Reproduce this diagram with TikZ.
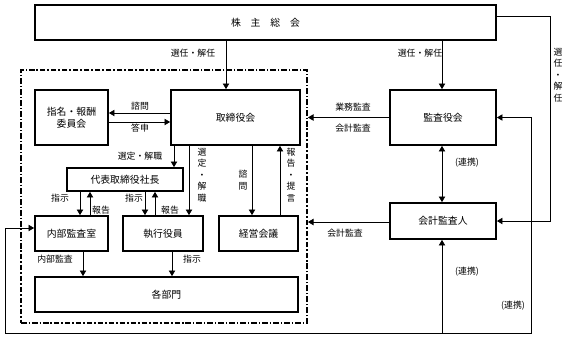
\documentclass[tikz,border=0pt]{standalone}
\usepackage{fontspec}
\setmainfont{Noto Sans CJK JP}
\usetikzlibrary{arrows.meta}

\begin{document}
\begin{tikzpicture}[x=0.025cm, y=-0.025cm,
	box/.style={draw, line width=1.2pt, inner sep=0, align=center,
				font=\fontsize{7}{8.5}\selectfont},
	lbl/.style={inner sep=0, font=\fontsize{6.3}{7.5}\selectfont},
	vlbl/.style={inner sep=0, align=center, font=\fontsize{6.3}{8.2}\selectfont},
	arr/.style={line width=0.6pt, -{Triangle[length=4pt,width=4.5pt]}},
	biarr/.style={line width=0.6pt,
				{Triangle[length=4pt,width=4.5pt]}-{Triangle[length=4pt,width=4.5pt]}},
	dashframe/.style={draw, line width=1.2pt, inner sep=0,
				dash pattern=on 4pt off 1.4pt on 1pt off 1.4pt}]
	\useasboundingbox (0,0) rectangle (567,338);

	\node[dashframe, minimum width=7.15cm, minimum height=6.325cm] (grp) at (164,196.5) {};

	\node[box, minimum width=11.525cm, minimum height=0.875cm] (agm) at (265.5,22.5)
		{株\hspace{1em}主\hspace{1em}総\hspace{1em}会};
	\node[box, minimum width=3.225cm, minimum height=1.375cm] (board) at (235.5,117.5) {取締役会};
	\node[box, minimum width=1.825cm, minimum height=1.375cm] (nomi) at (71.5,117.5) {指名・報酬\\委員会};
	\node[box, minimum width=2.65cm, minimum height=1.375cm] (kansa) at (443,117.5) {監査役会};
	\node[box, minimum width=2.9cm, minimum height=0.575cm] (pres) at (125,179.5) {代表取締役社長};
	\node[box, minimum width=1.825cm, minimum height=0.875cm] (naibu) at (71.5,233.5) {内部監査室};
	\node[box, minimum width=2cm, minimum height=0.875cm] (exec) at (163,233.5) {執行役員};
	\node[box, minimum width=1.975cm, minimum height=0.875cm] (keiei) at (258.5,233.5) {経営会議};
	\node[box, minimum width=6.575cm, minimum height=0.875cm] (bumon) at (166.5,294.5) {各部門};
	\node[box, minimum width=2.65cm, minimum height=0.9cm] (kaikei) at (443,221) {会計監査人};

	\draw[arr] (agm.south -| 226,0) -- (board.north -| 226,0);
	\node[lbl] at (193,53) {選任・解任};
	\draw[arr] (agm.south -| 442,0) -- (kansa.north -| 442,0);
	\node[lbl] at (420,53) {選任・解任};
	\draw[arr] (agm.east |- 0,16) -| (550,221) -- (kaikei.east);
	\node[vlbl] at (558,75) {選\\任\\・\\解\\任};

	\draw[arr] (board.west |- 0,113) -- (nomi.east |- 0,113);
	\node[lbl] at (140,106) {諮問};
	\draw[arr] (nomi.east |- 0,122) -- (board.west |- 0,122);
	\node[lbl] at (140,128) {答申};

	\draw[arr] (kansa.west) -- (grp.east |- kansa.west);
	\node[lbl] at (353,107) {業務監査};
	\node[lbl] at (353,128) {会計監査};
	\draw[biarr] (kansa.south -| 442,0) -- (kaikei.north -| 442,0);
	\node[lbl] at (467,163) {(連携)};
	\draw[arr] (kaikei.west |- 0,222) -- (grp.east |- 0,222);
	\node[lbl] at (345,233) {会計監査};

	\draw[biarr] (kansa.east) -| (531,333) -| (5,228) -- (naibu.west |- 0,228);
	\draw[arr] (442,333) -- (kaikei.south -| 442,0);
	\node[lbl] at (467,272) {(連携)};
	\node[lbl] at (513,306) {(連携)};

	\draw[arr] (board.south -| 174,0) -- (pres.north -| 174,0);
	\node[lbl] at (140,156) {選定・解職};
	\draw[arr] (board.south -| 189,0) -- (exec.north -| 189,0);
	\node[vlbl] at (202,175) {選\\定\\・\\解\\職};
	\draw[arr] (board.south -| 252,0) -- (keiei.north -| 252,0);
	\node[vlbl] at (243,180) {諮\\問};
	\draw[arr] (keiei.north -| 280,0) -- (board.south -| 280,0);
	\node[vlbl] at (291,175) {報\\告\\・\\提\\言};

	\draw[arr] (pres.south -| 80,0) -- (naibu.north -| 80,0);
	\draw[arr] (naibu.north -| 90,0) -- (pres.south -| 90,0);
	\node[lbl] at (60,198) {指示};
	\node[lbl] at (101,210) {報告};
	\draw[arr] (pres.south -| 145,0) -- (exec.north -| 145,0);
	\draw[arr] (exec.north -| 155,0) -- (pres.south -| 155,0);
	\node[lbl] at (134,198) {指示};
	\node[lbl] at (170,210) {報告};

	\draw[arr] (naibu.south -| 83,0) -- (bumon.north -| 83,0);
	\node[lbl] at (55,259) {内部監査};
	\draw[arr] (exec.south -| 172,0) -- (bumon.north -| 172,0);
	\node[lbl] at (192,259) {指示};
\end{tikzpicture}
\end{document}
